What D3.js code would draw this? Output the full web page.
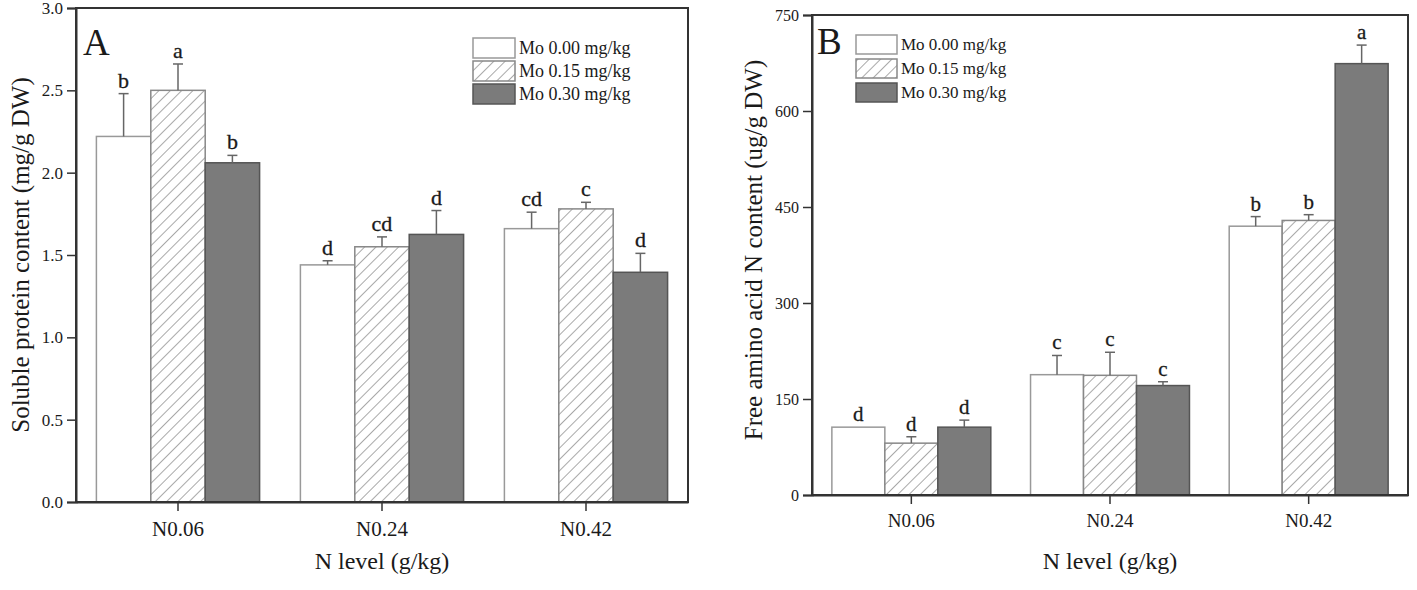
<!DOCTYPE html>
<html>
<head>
<meta charset="utf-8">
<script src="https://cdn.jsdelivr.net/npm/d3@7"></script>
<style>
  html, body { margin: 0; padding: 0; background: #fff; }
  svg { display: block; }
  text { font-family: "Liberation Serif", "Times New Roman", serif; fill: #1a1a1a; }
</style>
</head>
<body>
<svg id="chart" width="1417" height="590"></svg>
<script>
// ---------- data ----------
const categories = ["N0.06", "N0.24", "N0.42"];
const seriesNames = ["Mo 0.00 mg/kg", "Mo 0.15 mg/kg", "Mo 0.30 mg/kg"];

// Panel A: soluble protein (mg/g DW)
const proteinMo000 = [2.22, 1.44, 1.66];
const proteinMo015 = [2.50, 1.55, 1.78];
const proteinMo030 = [2.06, 1.625, 1.395];
const proteinErr000 = [0.26, 0.025, 0.10];
const proteinErr015 = [0.16, 0.06, 0.04];
const proteinErr030 = [0.045, 0.145, 0.115];
const proteinLetters000 = ["b", "d", "cd"];
const proteinLetters015 = ["a", "cd", "c"];
const proteinLetters030 = ["b", "d", "d"];
const proteinTicks = [0, 0.5, 1.0, 1.5, 2.0, 2.5, 3.0];

// Panel B: free amino acid N (ug/g DW)
const aminoMo000 = [106, 188, 420];
const aminoMo015 = [81, 187, 429];
const aminoMo030 = [106, 171, 674];
const aminoErr000 = [0, 30, 15];
const aminoErr015 = [10, 36, 9];
const aminoErr030 = [11, 6, 29];
const aminoLetters000 = ["d", "c", "b"];
const aminoLetters015 = ["d", "c", "b"];
const aminoLetters030 = ["d", "c", "a"];
const aminoTicks = [0, 150, 300, 450, 600, 750];

// ---------- drawing ----------
const svg = d3.select("#chart");
const defs = svg.append("defs");
defs.append("pattern")
  .attr("id", "hatch")
  .attr("patternUnits", "userSpaceOnUse")
  .attr("width", 8).attr("height", 8)
  .attr("patternTransform", "rotate(45)")
  .call(p => {
    p.append("rect").attr("width", 8).attr("height", 8).attr("fill", "#fff");
    p.append("line").attr("x1", 0).attr("y1", 0).attr("x2", 0).attr("y2", 8)
      .attr("stroke", "#7a7a7a").attr("stroke-width", 1.3);
  });

const fills = ["#ffffff", "url(#hatch)", "#7b7b7b"];
const strokes = ["#999999", "#888888", "#555555"];

function drawPanel(cfg) {
  const g = svg.append("g");
  const x = d3.scaleBand().domain(categories).range([cfg.left, cfg.right])
    .paddingInner(0.2).paddingOuter(0.1);
  const xs = d3.scaleBand().domain(seriesNames).range([0, x.bandwidth()]);
  const y = d3.scaleLinear().domain([0, cfg.max]).range([cfg.bottom, cfg.top]);

  const rows = [];
  cfg.values.forEach((vals, si) => {
    vals.forEach((v, ci) => {
      rows.push({ cat: categories[ci], s: seriesNames[si], si, v, e: cfg.errs[si][ci], L: cfg.letters[si][ci] });
    });
  });

  // bars
  g.selectAll("rect.bar").data(rows).join("rect")
    .attr("class", "bar")
    .attr("x", d => x(d.cat) + xs(d.s))
    .attr("y", d => y(d.v))
    .attr("width", xs.bandwidth())
    .attr("height", d => y(0) - y(d.v))
    .attr("fill", d => fills[d.si])
    .attr("stroke", d => strokes[d.si])
    .attr("stroke-width", 1.5);

  // error bars (upper only)
  const eb = g.selectAll("g.err").data(rows.filter(d => d.e > 0)).join("g").attr("class", "err");
  eb.append("line")
    .attr("x1", d => x(d.cat) + xs(d.s) + xs.bandwidth() / 2)
    .attr("x2", d => x(d.cat) + xs(d.s) + xs.bandwidth() / 2)
    .attr("y1", d => y(d.v)).attr("y2", d => y(d.v + d.e))
    .attr("stroke", "#666").attr("stroke-width", 1.5);
  eb.append("line")
    .attr("x1", d => x(d.cat) + xs(d.s) + xs.bandwidth() / 2 - 5)
    .attr("x2", d => x(d.cat) + xs(d.s) + xs.bandwidth() / 2 + 5)
    .attr("y1", d => y(d.v + d.e)).attr("y2", d => y(d.v + d.e))
    .attr("stroke", "#666").attr("stroke-width", 1.5);

  // significance letters
  g.selectAll("text.sig").data(rows).join("text")
    .attr("class", "sig")
    .attr("x", d => x(d.cat) + xs(d.s) + xs.bandwidth() / 2)
    .attr("y", d => y(d.v + d.e) - 6)
    .attr("text-anchor", "middle")
    .attr("font-size", cfg.sigSize)
    .attr("stroke", "#1a1a1a").attr("stroke-width", 0.3)
    .text(d => d.L);

  // frame
  g.append("rect")
    .attr("x", cfg.left).attr("y", cfg.top)
    .attr("width", cfg.right - cfg.left).attr("height", cfg.bottom - cfg.top)
    .attr("fill", "none").attr("stroke", "#333").attr("stroke-width", 2);

  // y axis
  const ya = g.append("g").attr("transform", `translate(${cfg.left},0)`)
    .call(d3.axisLeft(y).tickValues(cfg.ticks).tickSize(9).tickPadding(4).tickFormat(cfg.fmt));
  ya.select(".domain").attr("stroke", "#333").attr("stroke-width", 2);
  ya.selectAll(".tick line").attr("stroke", "#333").attr("stroke-width", 1.5);
  ya.selectAll(".tick text").attr("font-size", cfg.yTickSize)
    .attr("font-family", "Liberation Serif, serif").attr("fill", "#333");

  // x axis
  const xa = g.append("g").attr("transform", `translate(0,${cfg.bottom})`)
    .call(d3.axisBottom(x).tickSize(9).tickPadding(10).tickSizeOuter(0));
  xa.select(".domain").attr("stroke", "#333").attr("stroke-width", 2);
  xa.selectAll(".tick line").attr("stroke", "#333").attr("stroke-width", 1.5);
  xa.selectAll(".tick text").attr("font-size", cfg.xTickSize)
    .attr("font-family", "Liberation Serif, serif").attr("fill", "#333");

  // axis titles
  g.append("text")
    .attr("x", (cfg.left + cfg.right) / 2).attr("y", cfg.xTitleY)
    .attr("text-anchor", "middle").attr("font-size", 24)
    .text("N level (g/kg)");
  g.append("text")
    .attr("transform", `translate(${cfg.yTitleX},${cfg.yTitleCy}) rotate(-90)`)
    .attr("text-anchor", "middle").attr("font-size", 25)
    .text(cfg.yTitle);

  // panel letter
  g.append("text")
    .attr("x", cfg.left + cfg.panelDx).attr("y", cfg.top + cfg.panelDy)
    .attr("font-size", 37).text(cfg.panel);

  // legend
  const lg = g.append("g");
  seriesNames.forEach((name, i) => {
    const yy = cfg.legY + i * cfg.legStep;
    lg.append("rect")
      .attr("x", cfg.legX).attr("y", yy)
      .attr("width", cfg.legW).attr("height", cfg.legH)
      .attr("fill", fills[i]).attr("stroke", strokes[i]).attr("stroke-width", 1.5);
    lg.append("text")
      .attr("x", cfg.legX + cfg.legW + 4).attr("y", yy + cfg.legH / 2)
      .attr("dy", "0.35em").attr("font-size", cfg.legSize)
      .text(name);
  });
}

drawPanel({
  panel: "A", left: 76, right: 688, top: 8, bottom: 502, max: 3.0,
  values: [proteinMo000, proteinMo015, proteinMo030],
  errs: [proteinErr000, proteinErr015, proteinErr030],
  letters: [proteinLetters000, proteinLetters015, proteinLetters030],
  ticks: proteinTicks, fmt: d3.format(".1f"),
  yTickSize: 17, xTickSize: 21, sigSize: 22,
  yTitle: "Soluble protein content (mg/g DW)", yTitleX: 29, yTitleCy: 255,
  xTitleY: 569, panelDx: 7, panelDy: 47,
  legX: 473, legY: 38, legStep: 23, legW: 42, legH: 20, legSize: 18
});

drawPanel({
  panel: "B", left: 812, right: 1408, top: 15, bottom: 495, max: 750,
  values: [aminoMo000, aminoMo015, aminoMo030],
  errs: [aminoErr000, aminoErr015, aminoErr030],
  letters: [aminoLetters000, aminoLetters015, aminoLetters030],
  ticks: aminoTicks, fmt: d3.format("d"),
  yTickSize: 16, xTickSize: 19, sigSize: 21,
  yTitle: "Free amino acid N content (ug/g DW)", yTitleX: 762, yTitleCy: 250,
  xTitleY: 569, panelDx: 5, panelDy: 39,
  legX: 856, legY: 35, legStep: 24, legW: 41, legH: 19, legSize: 17
});
</script>
</body>
</html>
